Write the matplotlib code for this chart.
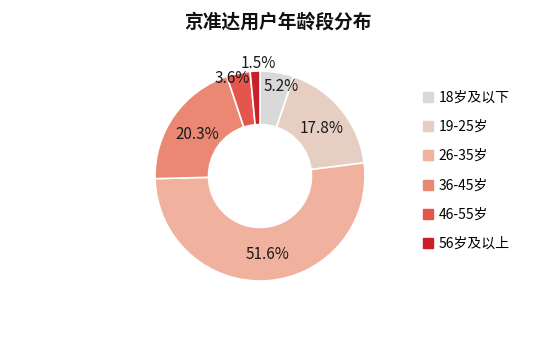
import matplotlib
matplotlib.use("Agg")
import matplotlib.pyplot as plt
from matplotlib.lines import Line2D
import numpy as np

plt.rcParams['font.family'] = ['Noto Sans CJK SC', 'DejaVu Sans']

title = "京准达用户年龄段分布"
categories = ["18岁及以下", "19-25岁", "26-35岁", "36-45岁", "46-55岁", "56岁及以上"]
shares = [5.2, 17.8, 51.6, 20.3, 3.6, 1.5]
colors = ["#d9d9d9", "#e6cfc2", "#f0b29e", "#ea8874", "#e4564c", "#c91f28"]

W, H = 554, 357
fig = plt.figure(figsize=(W / 100, H / 100), dpi=100)

cx, cy, r = 260, 176, 105
ax = fig.add_axes([(cx - r) / W, (H - cy - r) / H, 2 * r / W, 2 * r / H])

wedges, _ = ax.pie(shares, colors=colors, startangle=90, counterclock=False,
                   radius=1.0, wedgeprops=dict(width=0.51, edgecolor="white", linewidth=1.2))
ax.set_xlim(-1, 1)
ax.set_ylim(-1, 1)
ax.set_aspect("equal")
ax.axis("off")

# label placement per slice: radius fraction and small nudges
label_r = [0.88, 0.82, 0.76, 0.85, 1.08, 1.15]
nudge = [(0.06, -0.02), (-0.05, -0.07), (0.01, 0.01), (0.10, -0.09), (-0.04, -0.13), (0.04, -0.08)]
total = sum(shares)
start = 90.0
for i, v in enumerate(shares):
    mid = start - v / total * 360 / 2
    start -= v / total * 360
    a = np.deg2rad(mid)
    x = label_r[i] * np.cos(a) + nudge[i][0]
    y = label_r[i] * np.sin(a) + nudge[i][1]
    ax.text(x, y, f"{v}%", ha="center", va="center", fontsize=11, color="#1a1a1a")

fig.text(278 / W, 1 - 22 / H, title, ha="center", va="center", fontsize=13.5,
         fontweight="bold", color="#111111")

handles = [Line2D([0], [0], marker="s", linestyle="none", markersize=7,
                  markerfacecolor=c, markeredgecolor=c) for c in colors]
fig.legend(handles, categories, loc="upper left", bbox_to_anchor=(415 / W, 1 - 85 / H),
           frameon=False, fontsize=10, handletextpad=0.3, labelspacing=1.1,
           handlelength=1.0, borderaxespad=0)

fig.savefig("out.png", dpi=100)
